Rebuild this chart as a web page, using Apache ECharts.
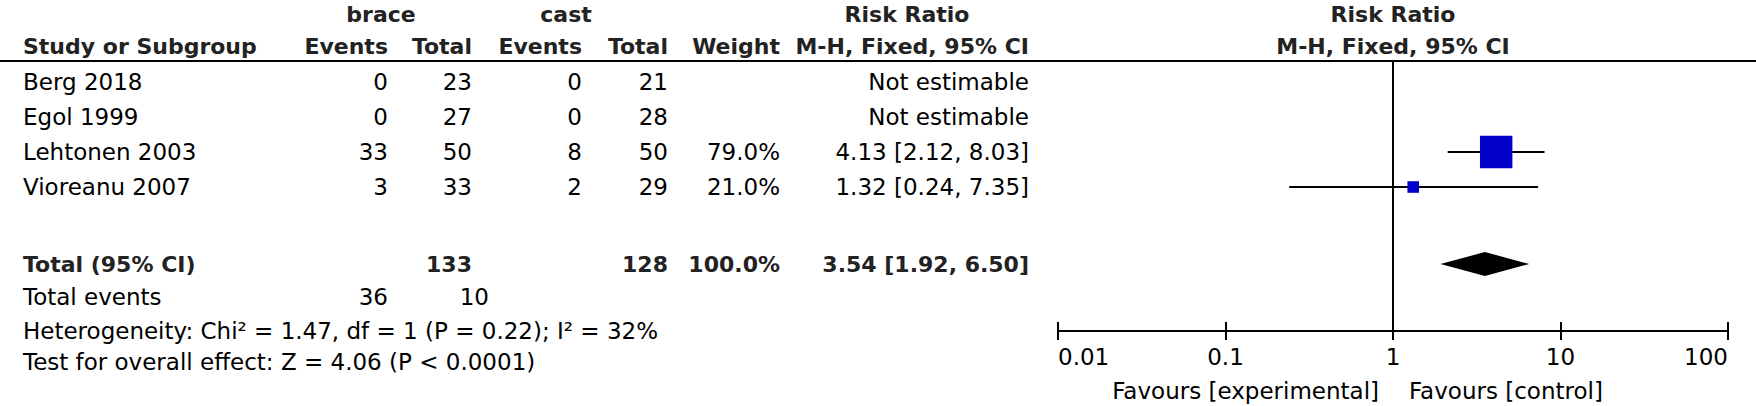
<!DOCTYPE html>
<html>
<head>
<meta charset="utf-8">
<script src="https://cdn.jsdelivr.net/npm/echarts@6/dist/echarts.min.js"></script>
<style>
html,body{margin:0;padding:0;background:#fff;}
#chart{width:1756px;height:406px;}
</style>
</head>
<body>
<div id="chart"></div>
<script>
// ---------- DATA ----------
const studies      = ['Berg 2018', 'Egol 1999', 'Lehtonen 2003', 'Vioreanu 2007'];
const braceEvents  = [0, 0, 33, 3];
const braceTotal   = [23, 27, 50, 33];
const castEvents   = [0, 0, 8, 2];
const castTotal    = [21, 28, 50, 29];
const weights      = [null, null, 79.0, 21.0];
const rrEst        = [null, null, 4.13, 1.32];
const rrLow        = [null, null, 2.12, 0.24];
const rrHigh       = [null, null, 8.03, 7.35];
const totalN       = [133, 128];
const totalEvents  = [36, 10];
const totalWeight  = 100.0;
const totalRR      = [3.54, 1.92, 6.50];
const heterogeneityText = 'Heterogeneity: Chi² = 1.47, df = 1 (P = 0.22); I² = 32%';
const overallText  = 'Test for overall effect: Z = 4.06 (P < 0.0001)';
const xTickLabels  = ['0.01', '0.1', '1', '10', '100'];
const groupLabels  = ['brace', 'cast'];
const favoursLabels = ['Favours [experimental]', 'Favours [control]'];

// ---------- LAYOUT ----------
const FONT = 'DejaVu Sans';
const REG = 23, BOLD = 22;
const ROW_TOTAL = 5.2, ROW_EVENTS = 6.15, ROW_HET = 7.1, ROW_TEST = 8.0;

const chart = echarts.init(document.getElementById('chart'), null, {renderer: 'svg'});

const fmt = v => (v === null ? '' : v.toFixed(2));
const studyData = [];
studies.forEach((s, i) => {
  if (rrEst[i] !== null) studyData.push([rrEst[i], rrLow[i], rrHigh[i], i, weights[i]]);
});

const xBase = {
  type: 'log', logBase: 10, min: 0.01, max: 100, gridIndex: 0,
  splitLine: {show: false}, position: 'bottom'
};

chart.setOption({
  animation: false,
  backgroundColor: '#fff',
  grid: {left: 1058, right: 28, top: 61, bottom: 75, containLabel: false},
  xAxis: [
    Object.assign({}, xBase, {
      axisLine: {show: true, onZero: false, lineStyle: {color: '#000', width: 2}},
      axisTick: {show: true, inside: false, length: 9, lineStyle: {color: '#000', width: 2}},
      axisLabel: {
        show: true, margin: 14, color: '#000', fontFamily: FONT, fontSize: REG,
        alignMinLabel: 'left', alignMaxLabel: 'right',
        formatter: v => {
          const k = Math.round(Math.log10(v)) + 2;
          return xTickLabels[k] !== undefined ? xTickLabels[k] : '';
        }
      }
    }),
    Object.assign({}, xBase, {
      axisLine: {show: false, onZero: false},
      axisTick: {show: true, inside: true, length: 9, lineStyle: {color: '#000', width: 2}},
      axisLabel: {show: false}
    })
  ],
  yAxis: {type: 'value', inverse: true, min: -0.6, max: 7.114, show: false},
  series: [
    {
      type: 'custom', name: 'studies', xAxisIndex: 0,
      encode: {x: [0, 1, 2], y: 3},
      data: studyData,
      renderItem: (params, api) => {
        const row = api.value(3);
        const c = api.coord([api.value(0), row]);
        const l = api.coord([api.value(1), row]);
        const h = api.coord([api.value(2), row]);
        const size = 4 + 0.36 * api.value(4);
        return {
          type: 'group',
          children: [
            {type: 'line', shape: {x1: l[0], y1: l[1], x2: h[0], y2: h[1]},
             style: {stroke: '#000', lineWidth: 2}},
            {type: 'rect', shape: {x: c[0] - size / 2, y: c[1] - size / 2, width: size, height: size},
             style: {fill: '#0000C8'}}
          ]
        };
      },
      markLine: {
        symbol: 'none', silent: true, label: {show: false},
        lineStyle: {color: '#000', width: 2, type: 'solid'},
        data: [{xAxis: 1}]
      }
    },
    {
      type: 'custom', name: 'total', xAxisIndex: 0,
      encode: {x: [0, 1, 2], y: 3},
      data: [[totalRR[0], totalRR[1], totalRR[2], ROW_TOTAL]],
      renderItem: (params, api) => {
        const row = api.value(3);
        const c = api.coord([api.value(0), row]);
        const l = api.coord([api.value(1), row]);
        const h = api.coord([api.value(2), row]);
        const hh = 12;
        return {
          type: 'polygon',
          shape: {points: [[l[0], l[1]], [c[0], c[1] - hh], [h[0], h[1]], [c[0], c[1] + hh]]},
          style: {fill: '#000'}
        };
      }
    }
  ]
});

// ---------- TABLE TEXT ----------
const rowY = i => chart.convertToPixel({gridIndex: 0}, [1, i])[1];
const oneX = chart.convertToPixel({gridIndex: 0}, [1, 0])[0];
const g = [];
const txt = (text, x, y, align, bold) => g.push({
  type: 'text', x: x, y: y, silent: true,
  style: {
    text: String(text), x: 0, y: 0, align: align, verticalAlign: 'middle',
    fontFamily: FONT, fontSize: bold ? BOLD : REG, fontWeight: bold ? 'bold' : 'normal',
    fill: bold ? '#222' : '#000'
  }
});

const COL = {name: 23, bEv: 388, bTot: 472, cEv: 582, cTot: 668, wt: 780, rr: 1029};
const H1 = 14, H2 = 46;

// headers
txt(groupLabels[0], 381, H1, 'center', true);
txt(groupLabels[1], 566, H1, 'center', true);
txt('Risk Ratio', 907, H1, 'center', true);
txt('Risk Ratio', oneX, H1, 'center', true);
txt('Study or Subgroup', COL.name, H2, 'left', true);
txt('Events', COL.bEv, H2, 'right', true);
txt('Total', COL.bTot, H2, 'right', true);
txt('Events', COL.cEv, H2, 'right', true);
txt('Total', COL.cTot, H2, 'right', true);
txt('Weight', COL.wt, H2, 'right', true);
txt('M-H, Fixed, 95% CI', COL.rr, H2, 'right', true);
txt('M-H, Fixed, 95% CI', oneX, H2, 'center', true);

// study rows
studies.forEach((s, i) => {
  const y = rowY(i);
  txt(s, COL.name, y, 'left', false);
  txt(braceEvents[i], COL.bEv, y, 'right', false);
  txt(braceTotal[i], COL.bTot, y, 'right', false);
  txt(castEvents[i], COL.cEv, y, 'right', false);
  txt(castTotal[i], COL.cTot, y, 'right', false);
  if (weights[i] !== null) txt(weights[i].toFixed(1) + '%', COL.wt, y, 'right', false);
  txt(rrEst[i] === null ? 'Not estimable'
      : fmt(rrEst[i]) + ' [' + fmt(rrLow[i]) + ', ' + fmt(rrHigh[i]) + ']', COL.rr, y, 'right', false);
});

// total row
let y = rowY(ROW_TOTAL);
txt('Total (95% CI)', COL.name, y, 'left', true);
txt(totalN[0], COL.bTot, y, 'right', true);
txt(totalN[1], COL.cTot, y, 'right', true);
txt(totalWeight.toFixed(1) + '%', COL.wt, y, 'right', true);
txt(fmt(totalRR[0]) + ' [' + fmt(totalRR[1]) + ', ' + fmt(totalRR[2]) + ']', COL.rr, y, 'right', true);

y = rowY(ROW_EVENTS);
txt('Total events', COL.name, y, 'left', false);
txt(totalEvents[0], COL.bEv, y, 'right', false);
txt(totalEvents[1], 489, y, 'right', false);

txt(heterogeneityText, COL.name, rowY(ROW_HET), 'left', false);
txt(overallText, COL.name, rowY(ROW_TEST), 'left', false);

// favours labels
txt(favoursLabels[0], oneX - 14, 391, 'right', false);
txt(favoursLabels[1], oneX + 16, 391, 'left', false);

// header rule
g.push({type: 'line', silent: true, shape: {x1: 0, y1: 61, x2: 1756, y2: 61},
        style: {stroke: '#000', lineWidth: 2}});

chart.setOption({graphic: {elements: g}});
</script>
</body>
</html>
